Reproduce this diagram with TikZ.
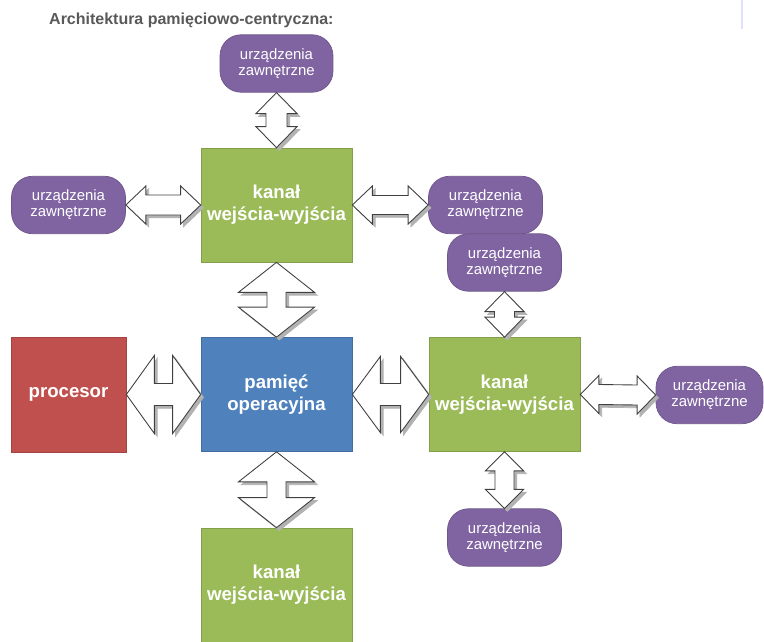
\documentclass[tikz,border=0pt]{standalone}
\usepackage{fontspec}
\setmainfont{Liberation Sans}
\usetikzlibrary{calc}

\definecolor{kanalgreen}{HTML}{9BBB59}
\definecolor{memblue}{HTML}{4F81BD}
\definecolor{cpured}{HTML}{C0504D}
\definecolor{devpurple}{HTML}{8064A2}
\definecolor{titlegray}{HTML}{595959}

\newcommand{\harr}[5]{\draw[blockarr] (#1) -- ($(#1)+(#5,-#3)$) -- ($(#1)+(#5,-#4)$) -- ($(#2)+(-#5,-#4)$) -- ($(#2)+(-#5,-#3)$) -- (#2) -- ($(#2)+(-#5,#3)$) -- ($(#2)+(-#5,#4)$) -- ($(#1)+(#5,#4)$) -- ($(#1)+(#5,#3)$) -- cycle;}
\newcommand{\varr}[5]{\draw[blockarr] (#1) -- ($(#1)+(#3,#5)$) -- ($(#1)+(#4,#5)$) -- ($(#2)+(#4,-#5)$) -- ($(#2)+(#3,-#5)$) -- (#2) -- ($(#2)+(-#3,-#5)$) -- ($(#2)+(-#4,-#5)$) -- ($(#1)+(-#4,#5)$) -- ($(#1)+(-#3,#5)$) -- cycle;}

\begin{document}
\begin{tikzpicture}[x=0.02cm,y=-0.02cm,
  kanal/.style={rectangle,fill=kanalgreen,draw=kanalgreen!85!black,line width=0.4pt,minimum width=3.02cm,minimum height=2.28cm,text=white,align=center,font=\bfseries\fontsize{10.6}{12.4}\selectfont},
  urzadz/.style={rectangle,rounded corners=0.42cm,fill=devpurple,draw=devpurple!85!black,line width=0.4pt,minimum width=2.28cm,minimum height=1.15cm,text=white,align=center,font=\fontsize{8.5}{9}\selectfont},
  blockarr/.style={draw=black!75,line width=0.5pt,fill=white,line join=miter,preaction={fill=black!30,draw=black!30,transform canvas={shift={(1.6pt,-1.6pt)}}}}]

\useasboundingbox (0,0) rectangle (764,642);
\draw[blue!12,line width=1pt] (742,0) -- (742,29);

\node[anchor=base west,text=titlegray,font=\bfseries\fontsize{9.1}{11}\selectfont] (tytul) at (43,25) {Architektura pamięciowo-centryczna:};

\node[kanal] (kanalA) at (276.5,205) {kanał\\wejścia-wyjścia};
\node[kanal,fill=memblue,draw=memblue!85!black] (pamiec) at (276.5,394.5) {pamięć\\operacyjna};
\node[kanal,fill=cpured,draw=cpured!85!black,minimum width=2.3cm,minimum height=2.3cm] (procesor) at (68.5,394.5) {procesor};
\node[kanal] (kanalB) at (504.5,394.5) {kanał\\wejścia-wyjścia};
\node[kanal] (kanalC) at (276.5,585) {kanał\\wejścia-wyjścia};

\node[urzadz,minimum width=2.26cm] (urzA) at (276.5,63.5) {urządzenia\\zawnętrzne};
\node[urzadz] (urzB) at (68.5,205) {urządzenia\\zawnętrzne};
\node[urzadz] (urzC) at (485.5,205) {urządzenia\\zawnętrzne};
\node[urzadz] (urzD) at (504.5,262.5) {urządzenia\\zawnętrzne};
\node[urzadz,minimum width=2.14cm] (urzE) at (709.5,395) {urządzenia\\zawnętrzne};
\node[urzadz] (urzF) at (504.5,537.5) {urządzenia\\zawnętrzne};

\varr{urzA.south}{kanalA.north}{20.5}{10.5}{21}
\harr{urzB.east}{kanalA.west}{19}{10}{20}
\harr{kanalA.east}{urzC.west}{19}{9.5}{20}
\varr{kanalA.south}{pamiec.north}{38}{9.5}{30}
\harr{procesor.east}{pamiec.west}{39}{11}{28}
\harr{pamiec.east}{kanalB.west}{38}{11}{28}
\varr{pamiec.south}{kanalC.north}{38}{9.5}{30}
\varr{urzD.south}{kanalB.north}{19.5}{10}{20}
\varr{kanalB.south}{urzF.north}{19}{9.5}{19}
\harr{kanalB.east}{urzE.west}{19}{10}{18.5}

\end{tikzpicture}
\end{document}
